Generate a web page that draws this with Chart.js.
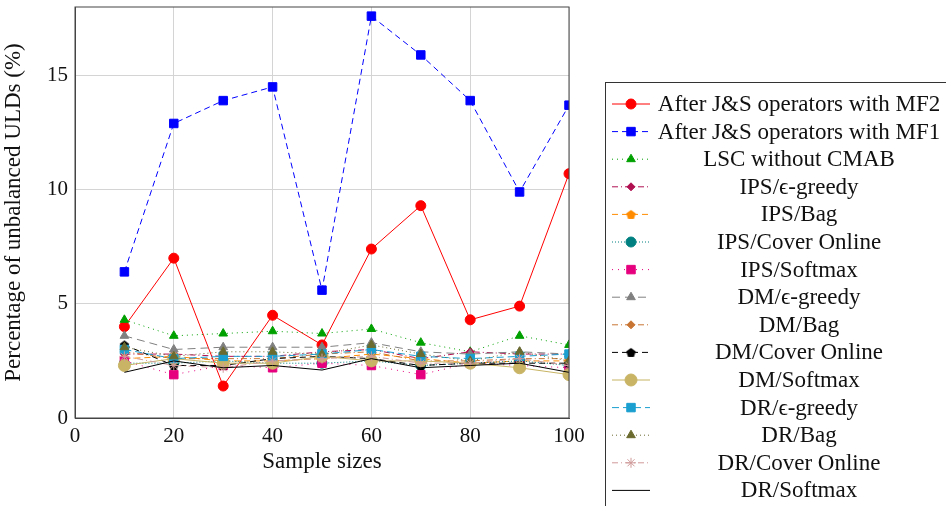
<!DOCTYPE html>
<html>
<head>
<meta charset="utf-8">
<script src="https://cdn.jsdelivr.net/npm/chart.js@4/dist/chart.umd.min.js"></script>
<style>
  html, body { margin: 0; padding: 0; background: #fff; }
  #wrap { width: 946px; height: 506px; }
</style>
</head>
<body>
<div id="wrap"><canvas id="chart" width="946" height="506"></canvas></div>
<script>
// sample sizes on the x axis
const sampleSizes = [10, 20, 30, 40, 50, 60, 70, 80, 90, 100];

// percentage of unbalanced ULDs per method
const mf2       = [4.0, 7.0, 1.4, 4.5, 3.2, 7.4, 9.3, 4.3, 4.9, 10.7];
const mf1       = [6.4, 12.9, 13.9, 14.5, 5.6, 17.6, 15.9, 13.9, 9.9, 13.7];
const lsc       = [4.3, 3.6, 3.7, 3.8, 3.7, 3.9, 3.3, 2.9, 3.6, 3.2];
const ipsGreedy = [2.8, 2.8, 2.7, 2.7, 2.9, 3.0, 2.6, 2.9, 2.8, 2.8];
const ipsBag    = [2.6, 2.7, 2.5, 2.5, 2.6, 2.8, 2.6, 2.4, 2.5, 2.5];
const ipsCover  = [2.4, 2.4, 2.5, 2.4, 2.4, 2.5, 2.3, 2.4, 2.5, 2.3];
const ipsSoft   = [2.5, 1.9, 2.3, 2.2, 2.4, 2.3, 1.9, 2.4, 2.3, 2.2];
const dmGreedy  = [3.6, 3.0, 3.1, 3.1, 3.1, 3.3, 2.9, 2.8, 2.9, 2.8];
const dmBag     = [2.9, 2.6, 2.6, 2.6, 2.8, 2.9, 2.5, 2.5, 2.6, 2.6];
const dmCover   = [3.2, 2.3, 2.3, 2.6, 2.7, 2.6, 2.3, 2.4, 2.4, 2.4];
const dmSoft    = [2.3, 2.6, 2.4, 2.4, 2.7, 2.5, 2.5, 2.4, 2.2, 1.9];
const drGreedy  = [3.0, 2.6, 2.7, 2.7, 2.8, 3.0, 2.7, 2.6, 2.7, 2.8];
const drBag     = [3.1, 2.7, 2.9, 2.9, 2.8, 3.2, 2.8, 2.5, 2.9, 2.5];
const drCover   = [2.7, 2.3, 2.2, 2.5, 2.6, 2.7, 2.4, 2.4, 2.6, 2.3];
const drSoft    = [2.0, 2.5, 2.2, 2.3, 2.1, 2.6, 2.2, 2.3, 2.4, 2.0];

const yTicks = [0, 5, 10, 15];
const xTicks = [0, 20, 40, 60, 80, 100];

const serif = "'Liberation Serif', 'DejaVu Serif', serif";

// pentagon marker (chart.js has no pentagon point style)
function pentagon(color, size) {
    const c = document.createElement("canvas");
    c.width = size; c.height = size;
    const g = c.getContext("2d");
    const r = size / 2 - 0.5;
    g.beginPath();
    for (let k = 0; k < 5; k++) {
        const a = -Math.PI / 2 + k * 2 * Math.PI / 5;
        const px = size / 2 + r * Math.cos(a), py = size / 2 + r * Math.sin(a) + 0.5;
        if (k === 0) g.moveTo(px, py); else g.lineTo(px, py);
    }
    g.closePath();
    g.fillStyle = color;
    g.fill();
    return c;
}

function series(label, values, color, dash, style, radius, fill) {
    return {
        label: label,
        data: values.map((v, i) => ({ x: sampleSizes[i], y: v })),
        borderColor: color,
        backgroundColor: color,
        borderWidth: 1,
        borderDash: dash,
        pointStyle: style,
        pointRadius: radius,
        pointHoverRadius: radius,
        pointBackgroundColor: fill || color,
        pointBorderColor: fill || color,
        pointBorderWidth: 1,
        tension: 0
    };
}

const datasets = [
    series("After J&S operators with MF2", mf2, "#ff0000", [], "circle", 5),
    series("After J&S operators with MF1", mf1, "#0000ff", [6, 4], "rect", 6),
    series("LSC without CMAB", lsc, "#00a000", [1, 4], "triangle", 5),
    series("IPS/ϵ-greedy", ipsGreedy, "#b01050", [6, 3, 1, 3], "rectRot", 4),
    series("IPS/Bag", ipsBag, "#ff8c00", [6, 4], pentagon("#ff8c00", 11), 5),
    series("IPS/Cover Online", ipsCover, "#008080", [1, 2], "circle", 5),
    series("IPS/Softmax", ipsSoft, "#e6007e", [1, 5], "rect", 6),
    series("DM/ϵ-greedy", dmGreedy, "#808080", [8, 5], "triangle", 5),
    series("DM/Bag", dmBag, "#c87533", [6, 3, 1, 3], "rectRot", 4),
    series("DM/Cover Online", dmCover, "#000000", [6, 4], pentagon("#000000", 11), 5),
    series("DM/Softmax", dmSoft, "#c8b464", [], "circle", 6),
    series("DR/ϵ-greedy", drGreedy, "#1a9fd0", [7, 4], "rect", 6),
    series("DR/Bag", drBag, "#6b6b30", [1, 3], "triangle", 5),
    series("DR/Cover Online", drCover, "#d09a9a", [6, 3, 1, 3], "star", 5),
    series("DR/Softmax", drSoft, "#000000", [], false, 0)
];
// later series drawn on top, like pgfplots
datasets.forEach((d, i) => { d.order = datasets.length - i; });

// legend box drawn on the canvas, centred labels like a pgfplots legend
const legendBox = {
    id: "legendBox",
    afterDraw(chart) {
        const ctx = chart.ctx;
        ctx.save();
        ctx.setLineDash([]);
        ctx.strokeStyle = "#333";
        ctx.lineWidth = 1;
        ctx.strokeRect(605.5, 82.5, 345, 440);
        ctx.font = "23px " + serif;
        ctx.textAlign = "center";
        ctx.textBaseline = "middle";
        chart.data.datasets.forEach((ds, i) => {
            const y = 104 + i * 27.6;
            ctx.strokeStyle = ds.borderColor;
            ctx.lineWidth = 1;
            ctx.setLineDash(ds.borderDash);
            ctx.beginPath();
            ctx.moveTo(612, y);
            ctx.lineTo(650, y);
            ctx.stroke();
            ctx.setLineDash([]);
            if (ds.pointRadius > 0) {
                ctx.fillStyle = ds.pointBackgroundColor;
                ctx.strokeStyle = ds.pointBorderColor;
                Chart.helpers.drawPoint(ctx, {
                    pointStyle: ds.pointStyle,
                    radius: ds.pointRadius,
                    rotation: 0,
                    borderWidth: 1
                }, 631, y);
            }
            ctx.fillStyle = "#111";
            ctx.fillText(ds.label, 799, y + 1);
        });
        ctx.restore();
    }
};

new Chart(document.getElementById("chart"), {
    type: "line",
    data: { datasets: datasets },
    options: {
        responsive: false,
        animation: false,
        layout: { padding: { left: 0, right: 377, top: 6, bottom: 0 } },
        plugins: {
            legend: { display: false },
            tooltip: { enabled: false }
        },
        scales: {
            x: {
                type: "linear",
                min: 0,
                max: 100,
                afterBuildTicks: s => { s.ticks = xTicks.map(v => ({ value: v })); },
                afterFit: s => { s.height = 88; },
                border: { color: "#444", width: 1 },
                grid: { color: "#d4d4d4", drawTicks: false },
                ticks: { color: "#111", padding: 6, font: { family: serif, size: 21 } },
                title: {
                    display: true,
                    text: "Sample sizes",
                    color: "#111",
                    font: { family: serif, size: 23 },
                    padding: { top: 0, bottom: 30 }
                }
            },
            y: {
                min: 0,
                max: 18,
                afterBuildTicks: s => { s.ticks = yTicks.map(v => ({ value: v })); },
                afterFit: s => { s.width = 75; s.paddingTop = 0; s.paddingBottom = 0; },
                border: { color: "#444", width: 1 },
                grid: { color: "#d4d4d4", drawTicks: false },
                ticks: { color: "#111", padding: 7, font: { family: serif, size: 21 } },
                title: {
                    display: true,
                    text: "Percentage of unbalanced ULDs (%)",
                    color: "#111",
                    font: { family: serif, size: 23 },
                    padding: { top: 0, bottom: 0 }
                }
            }
        }
    },
    plugins: [legendBox, {
        id: "frame",
        afterDatasetsDraw(chart) {
            const a = chart.chartArea, ctx = chart.ctx;
            ctx.save();
            ctx.strokeStyle = "#444";
            ctx.lineWidth = 1;
            ctx.strokeRect(a.left, a.top, a.right - a.left, a.bottom - a.top);
            ctx.restore();
        }
    }]
});
</script>
</body>
</html>
